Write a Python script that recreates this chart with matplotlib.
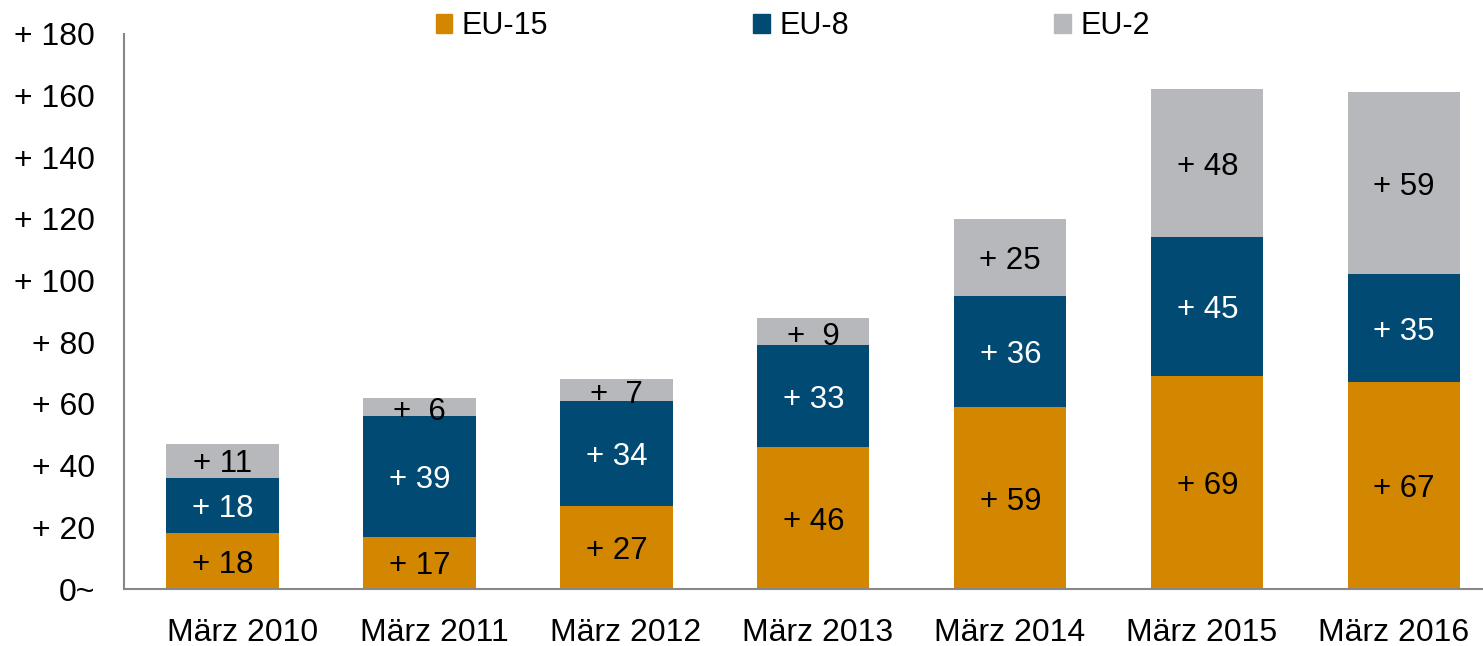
import matplotlib
matplotlib.use("Agg")
import matplotlib.pyplot as plt
from matplotlib.patches import Patch

plt.rcParams['font.family'] = ['Liberation Sans', 'DejaVu Sans']

categories = ["März 2010", "März 2011", "März 2012", "März 2013", "März 2014", "März 2015", "März 2016"]
eu15 = [18, 17, 27, 46, 59, 69, 67]
eu8 = [18, 39, 34, 33, 36, 45, 35]
eu2 = [11, 6, 7, 9, 25, 48, 59]
eu15_labels = ["+ 18", "+ 17", "+ 27", "+ 46", "+ 59", "+ 69", "+ 67"]
eu8_labels = ["+ 18", "+ 39", "+ 34", "+ 33", "+ 36", "+ 45", "+ 35"]
eu2_labels = ["+ 11", "+  6", "+  7", "+  9", "+ 25", "+ 48", "+ 59"]
yticks = [0, 20, 40, 60, 80, 100, 120, 140, 160, 180]
ytick_labels = ["0~", "+ 20", "+ 40", "+ 60", "+ 80", "+ 100", "+ 120", "+ 140", "+ 160", "+ 180"]

c15 = "#D38600"
c8 = "#004A73"
c2 = "#B7B8BC"

fig = plt.figure(figsize=(14.83, 6.46), dpi=100)
ax = fig.add_axes([0.0836, 0.0882, 0.9164, 0.8596])

x = list(range(len(categories)))
w = 0.57
ax.bar(x, eu15, w, color=c15, label="EU-15")
ax.bar(x, eu8, w, bottom=eu15, color=c8, label="EU-8")
bottom2 = [a + b for a, b in zip(eu15, eu8)]
ax.bar(x, eu2, w, bottom=bottom2, color=c2, label="EU-2")

fs = 22.5
for i in x:
    ax.text(i, eu15[i] / 2, eu15_labels[i], ha='center', va='center_baseline', color='black', fontsize=fs)
    ax.text(i, eu15[i] + eu8[i] / 2, eu8_labels[i], ha='center', va='center_baseline', color='white', fontsize=fs)
    off = -0.6 if eu2[i] < 10 else 0
    ax.text(i, bottom2[i] + eu2[i] / 2 + off, eu2_labels[i], ha='center', va='center_baseline', color='black', fontsize=fs)

ax.set_xlim(-0.5, 6.4)
ax.set_ylim(0, 180)
ax.set_yticks(yticks)
ax.set_yticklabels(ytick_labels, fontsize=23)
# category labels in the reference are spread slightly narrower than the bars
ax.set_xticks([0.1 + 0.974 * i for i in x])
ax.set_xticklabels(categories, fontsize=23)
ax.tick_params(axis='both', length=0)
ax.tick_params(axis='y', pad=21)
ax.tick_params(axis='x', pad=21)
for s in ['top', 'right']:
    ax.spines[s].set_visible(False)
for s in ['left', 'bottom']:
    ax.spines[s].set_color('#888888')
    ax.spines[s].set_linewidth(1.5)

handles = [Patch(color=c15), Patch(color=c8), Patch(color=c2)]
fig.legend(handles, ["EU-15", "EU-8", "EU-2"], loc='center', bbox_to_anchor=(0.5345, 0.959),
           ncol=3, frameon=False, fontsize=22, handlelength=0.55, handleheight=0.55,
           handletextpad=0.3, columnspacing=6.72)

fig.savefig("out.png", dpi=100)
